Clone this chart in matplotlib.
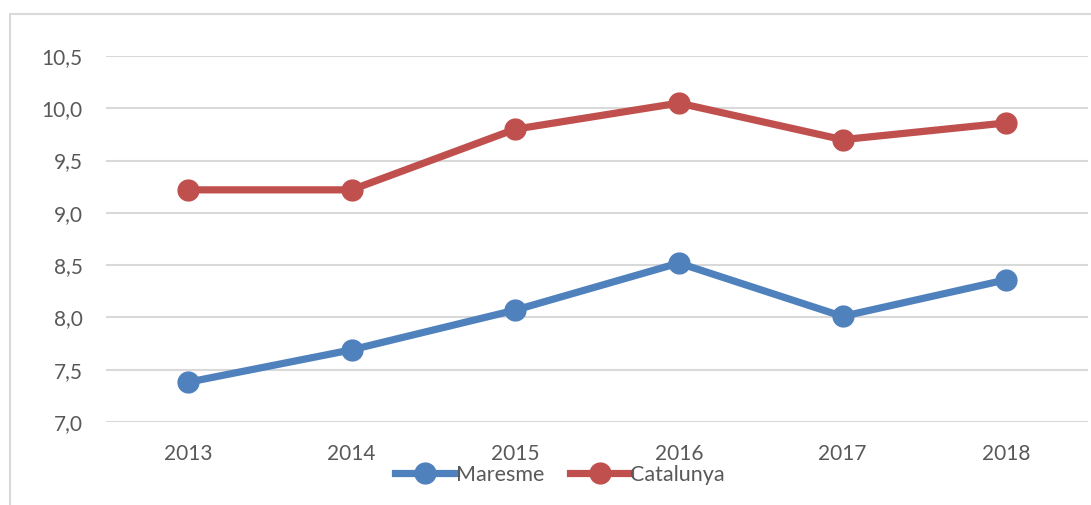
import matplotlib.pyplot as plt
from matplotlib.patches import Rectangle

years = ['2013', '2014', '2015', '2016', '2017', '2018']
maresme = [7.38, 7.69, 8.07, 8.52, 8.01, 8.36]
catalunya = [9.22, 9.22, 9.80, 10.05, 9.70, 9.86]
yticks = [7.0, 7.5, 8.0, 8.5, 9.0, 9.5, 10.0, 10.5]

W, H = 1091, 505
fig = plt.figure(figsize=(W / 100, H / 100), dpi=100)
plt.rcParams['font.family'] = ['Lato', 'DejaVu Sans']

# chart frame (cut at right/bottom like the screenshot)
fig.patches.append(Rectangle((10 / W, -0.1), 1.2, 1 - 14 / H + 0.1,
                             transform=fig.transFigure, fill=False,
                             edgecolor='#d9d9d9', lw=1.5))

ax = fig.add_axes([106 / W, 1 - 422 / H, (1088 - 106) / W, (422 - 56) / H])
x = list(range(len(years)))
ax.plot(x, maresme, color='#4f81bd', lw=5.2, marker='o', ms=15, label='Maresme', zorder=3)
ax.plot(x, catalunya, color='#c0504d', lw=5.2, marker='o', ms=15, label='Catalunya', zorder=3)

ax.set_xlim(-0.5, 5.5)
ax.set_ylim(7.0, 10.5)
ax.set_yticks(yticks)
ax.set_yticklabels([('%.1f' % v).replace('.', ',') for v in yticks])
ax.set_xticks(x)
ax.set_xticklabels(years)
ax.tick_params(length=0, labelsize=15, labelcolor='#595959')
ax.tick_params(axis='y', pad=17)
ax.tick_params(axis='x', pad=16)
ax.grid(axis='y', color='#d9d9d9', lw=1.5)
ax.set_axisbelow(True)
for s in ax.spines.values():
    s.set_visible(False)

fig.legend(loc='center', bbox_to_anchor=(560 / W, 1 - 475 / H), ncol=2, frameon=False,
           fontsize=15.5, handlelength=2.8, handletextpad=0.0, columnspacing=1.2,
           labelcolor='#595959', borderaxespad=0)

fig.savefig('out.png', dpi=100)
